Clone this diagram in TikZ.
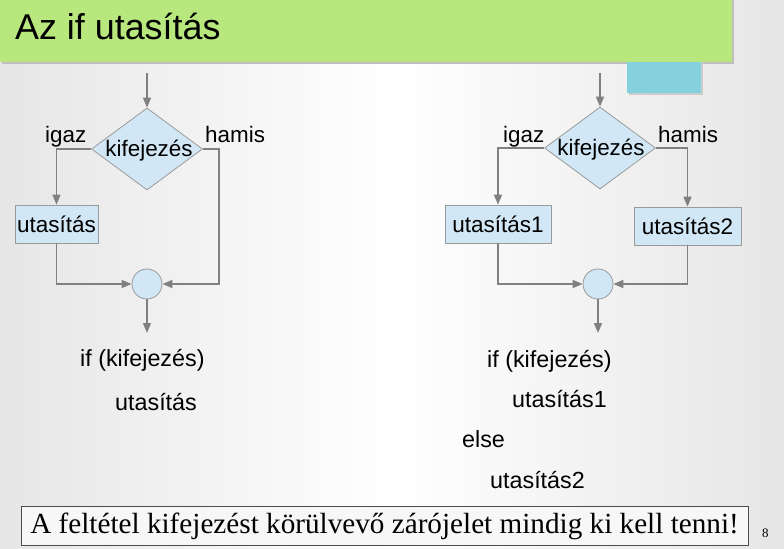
\documentclass[tikz,border=0pt]{standalone}
\usepackage{fontspec}
\setmainfont{Liberation Sans}
\newfontfamily\serifnote{Liberation Serif}
\usetikzlibrary{shapes.geometric,arrows.meta}
\definecolor{titlegreen}{HTML}{B8E77E}
\definecolor{accentblue}{HTML}{84D0DF}
\definecolor{shapefill}{HTML}{D2E7F5}
\definecolor{shapeedge}{HTML}{9A9A9A}
\definecolor{linegray}{HTML}{808080}
\definecolor{bgside}{HTML}{E6E6E6}
\tikzset{
  flow/.style={draw=linegray, line width=1.5bp, -{Triangle[length=10bp,width=8bp]}},
  decision/.style={diamond, draw=shapeedge, fill=shapefill, line width=0.8bp, minimum width=111bp, minimum height=82bp, inner sep=0pt},
  stmtbox/.style={rectangle, draw=shapeedge, fill=shapefill, line width=0.8bp, minimum height=38bp, inner sep=1bp, font=\fontsize{22.6}{26}\selectfont},
  joint/.style={circle, draw=shapeedge, fill=shapefill, line width=0.8bp, minimum size=30bp, inner sep=0pt},
  lbl/.style={font=\fontsize{22.5}{26}\selectfont, inner sep=0pt},
  code/.style={font=\fontsize{23.4}{27}\selectfont, inner sep=0pt, anchor=base west}
}
\begin{document}
\begin{tikzpicture}[x=1bp,y=-1bp]
\useasboundingbox (0,0) rectangle (784,549);
% background
\shade[left color=bgside, right color=bgside, middle color=white] (0,0) rectangle (784,549);
% title bar
\fill[black!25] (2,0) rectangle (734,64);
\fill[titlegreen] (0,0) rectangle (732,62);
\fill[black!20] (629,62) rectangle (703,95);
\fill[accentblue] (627,62) rectangle (701,93);
\node[font=\fontsize{36}{40}\selectfont, anchor=base west, inner sep=0pt] (title) at (15,40) {Az if utasítás};

% ---------- left diagram ----------
\node[decision] (d1) at (147,149) {};
\node[lbl, anchor=base] (d1t) at (149,157) {kifejezés};
\node[stmtbox, minimum width=83bp] (b1) at (56.5,224) {utasítás};
\node[joint] (c1) at (147,284) {};
\node[lbl, anchor=base west] (ig1) at (45,143) {igaz};
\node[lbl, anchor=base west] (ha1) at (205,143) {hamis};
\coordinate (t1) at (147,73);
\coordinate (e1) at (147,333);
\coordinate (r1) at (219,284);
\draw[flow] (t1) -- (d1.north);
\draw[flow] (d1.west) -| (b1.north);
\draw[flow] (b1.south) |- (c1.west);
\draw[flow] (d1.east) -| (r1) -- (c1.east);
\draw[flow] (c1.south) -- (e1);

\node[code] (l1) at (80,366) {if (kifejezés)};
\node[code] (l2) at (115,410) {utasítás};

% ---------- right diagram ----------
\node[decision] (d2) at (600,148) {};
\node[lbl, anchor=base] (d2t) at (601,156) {kifejezés};
\node[stmtbox, minimum width=106bp] (b2) at (498,224) {utasítás1};
\node[stmtbox, minimum width=107bp] (b3) at (687.5,226) {utasítás2};
\node[joint] (c2) at (598,284) {};
\node[lbl, anchor=base west] (ig2) at (503,143) {igaz};
\node[lbl, anchor=base west] (ha2) at (658,143) {hamis};
\coordinate (t2) at (600,73);
\coordinate (e2) at (598,333);
\draw[flow] (t2) -- (d2.north);
\draw[flow] (d2.west) -| (b2.north);
\draw[flow] (d2.east) -| (b3.north);
\draw[flow] (b2.south) |- (c2.west);
\draw[flow] (b3.south) |- (c2.east);
\draw[flow] (c2.south) -- (e2);

\node[code] (r1t) at (487,367) {if (kifejezés)};
\node[code] (r2t) at (512,407) {utasítás1};
\node[code] (r3t) at (462,447) {else};
\node[code] (r4t) at (490,488) {utasítás2};

% ---------- footer ----------
\node[draw=black!70, line width=0.8bp, fill=black!3, minimum width=727bp, minimum height=39bp, inner sep=0pt] (note) at (384.5,526) {};
\node[font=\serifnote\fontsize{29.3}{32}\selectfont, inner sep=0pt] (notet) at (note.center) {A feltétel kifejezést körülvevő zárójelet mindig ki kell tenni!};
\node[font=\serifnote\fontsize{13}{15}\selectfont, anchor=base west, inner sep=0pt] (pg) at (762,537) {8};
\end{tikzpicture}
\end{document}
